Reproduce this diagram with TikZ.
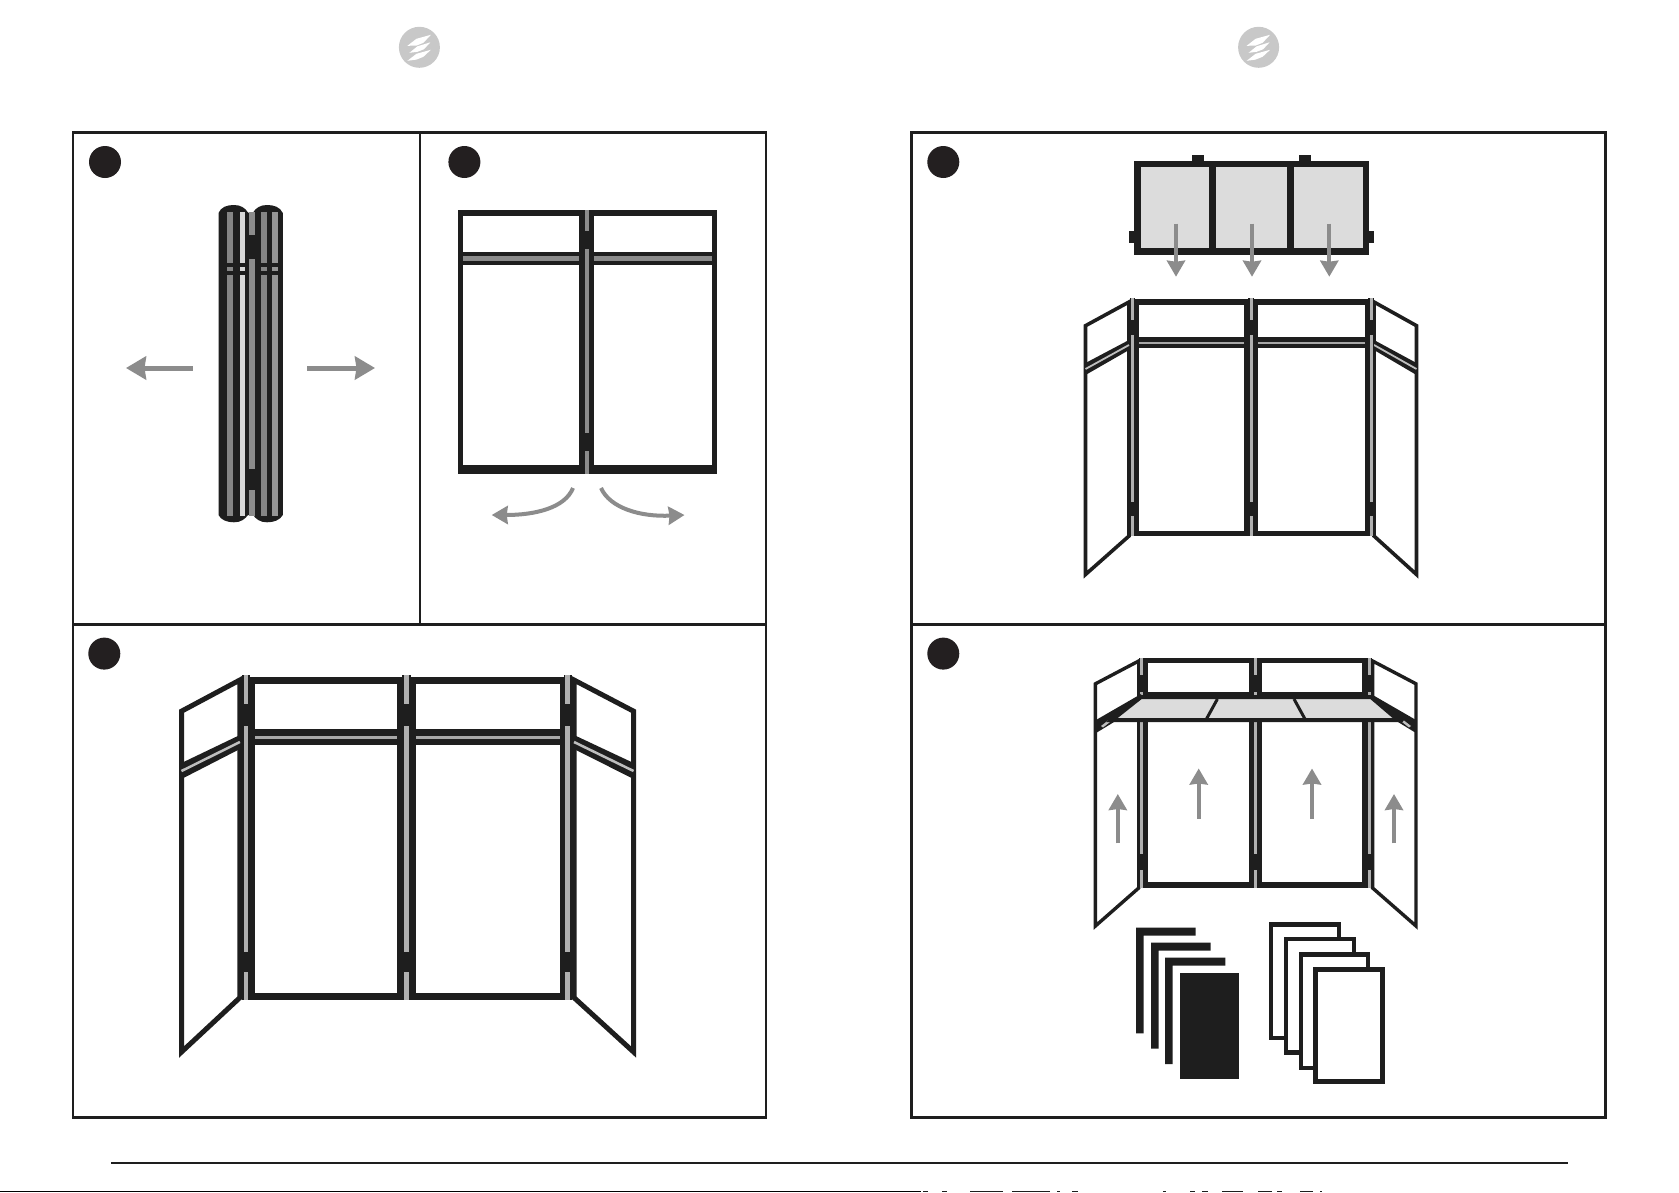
\documentclass[tikz,border=0pt]{standalone}
\usetikzlibrary{arrows.meta}
\definecolor{ink}{HTML}{1E1E1E}
\definecolor{badge}{HTML}{231F20}
\definecolor{arrowgray}{HTML}{8C8C8C}
\definecolor{bargray}{HTML}{8A8A8A}
\definecolor{hingegray}{HTML}{8C8C8C}
\definecolor{gapgray}{HTML}{BEBEBE}
\definecolor{shelf}{HTML}{DCDCDC}
\definecolor{logo}{HTML}{C8C8C8}
\tikzset{
  frame/.style={draw=ink,line width=2.6pt},
  hairline/.style={draw=ink,line width=1.5pt},
  num/.style={circle,fill=badge,minimum size=32pt,inner sep=0pt},
  logodisc/.style={circle,fill=logo,minimum size=41pt,inner sep=0pt},
  wingline/.style={draw=ink,line join=miter,miter limit=20},
  bigarrow/.style={draw=arrowgray,line width=5pt,-{Stealth[length=20pt,width=23pt,inset=1.5pt,fill=arrowgray]}},
  midarrow/.style={draw=arrowgray,line width=4pt,-{Stealth[length=16pt,width=18pt,inset=1pt,fill=arrowgray]}},
}
% front panel: x0 x1 ytop yinner barTop grayTop grayBot barBot innerBot  (uses \pbot, \pt)
\newcommand\fpanel[9]{%
  \fill[ink] (#1,#3) rectangle (#2,\pbot);
  \fill[white] ({#1+\pt},#4) rectangle ({#2-\pt},#5);
  \fill[white] ({#1+\pt},#8) rectangle ({#2-\pt},#9);
  \fill[bargray] ({#1+\pt},#6) rectangle ({#2-\pt},#7);
}
% hinge: xc blackwidth graywidth ytop ybot h1a h1b h2a h2b
\newcommand\hingebar[9]{%
  \fill[ink] ({#1-#2/2},#4) rectangle ({#1+#2/2},#5);
  \fill[hingegray] ({#1-#3/2},#4) rectangle ({#1+#3/2},#5);
  \fill[ink] ({#1-#2/2},#6) rectangle ({#1+#2/2},#7);
  \fill[ink] ({#1-#2/2},#8) rectangle ({#1+#2/2},#9);
}
% wing frame: xo xi ytopOut ytopIn ybotOut ybotIn  (width \wlw)
\newcommand\wing[6]{%
  \draw[wingline,line width=\wlw pt,fill=white] (#1,#3) -- (#2,#4) -- (#2,#6) -- (#1,#5) -- cycle;
}
% wing bar: xo xi y1out y1in y2out y2in gapwidth
\newcommand\wingbar[7]{%
  \fill[ink] (#1,#3) -- (#2,#4) -- (#2,#6) -- (#1,#5) -- cycle;
  \draw[gapgray,line width=#7pt] (#1,{(#3+#5)/2}) -- (#2,{(#4+#6)/2});
}
\newcommand\logomark[2]{%
  \node[logodisc] (logo#1) at (#2,47.3) {};
  \begin{scope}[shift={(#2,47.3)}]
    \fill[white] (-12,-1.5) -- (-3,-8.5) -- (11.5,-12.5) -- (4,-4.5) -- (-3,-1.7) -- cycle;
    \fill[white] (-10,5.5) -- (-2,-1) -- (11,-5) -- (4.5,2) -- (-2,4.5) -- cycle;
    \fill[white] (-12,13.5) -- (-3,6.5) -- (11.5,2.5) -- (4,9.5) -- (-3,12.3) -- cycle;
  \end{scope}
}
\begin{document}
\begin{tikzpicture}[x=1pt,y=-1pt]
\useasboundingbox[fill=white] (0,0) rectangle (1679,1192);

% logos
\logomark{L}{419.4}
\logomark{R}{1258.6}

% frames
\draw[frame] (72.8,132.7) rectangle (766,1117.6);
\draw[frame] (72.8,624.5) -- (766,624.5);
\draw[frame] (420,132.7) -- (420,624.5);
\draw[frame] (911.7,132.7) rectangle (1605.5,1117.6);
\draw[frame] (911.7,624.5) -- (1605.5,624.5);

% badges
\node[num] (n1) at (105,162) {};
\node[num] (n2) at (464.4,162) {};
\node[num] (n3) at (104.3,653.6) {};
\node[num] (n4) at (943.3,162) {};
\node[num] (n5) at (943.3,653.6) {};

% ---------- panel 1: folded
\fill[ink] (218.5,213) .. controls (221,207) and (227,205) .. (234,205) .. controls (241,205) and (245,208) .. (248,212.5) -- (253,212.5) .. controls (256,208) and (260,205) .. (267,205) .. controls (274,205) and (280,207) .. (282.8,213) -- (282.8,515) .. controls (280,520) and (274,522.3) .. (267,522.3) .. controls (260,522.3) and (256,519) .. (253,515) -- (248,515) .. controls (245,519) and (241,522.3) .. (234,522.3) .. controls (227,522.3) and (221,520) .. (218.5,515) -- cycle;
\foreach \a/\b/\c in {226.5/233/858585,239.5/244.5/D8D8D8,249/254.5/8C8C8C,261/267/858585,272/277.5/969696}{
  \definecolor{tmpc}{HTML}{\c}
  \fill[tmpc] (\a,212) rectangle (\b,516);
}
\fill[ink] (247,234.7) rectangle (256,259);
\fill[ink] (247,469) rectangle (256,490);
\fill[ink] (221,262.5) rectangle (247,266.5);
\fill[ink] (221,271) rectangle (247,275);
\fill[ink] (256,262.5) rectangle (280,266.5);
\fill[ink] (256,271) rectangle (280,275);
\coordinate (a1s) at (192.8,368); \coordinate (a1e) at (126,368);
\coordinate (a2s) at (307.4,368); \coordinate (a2e) at (375,368);
\draw[bigarrow] (a1s) -- (a1e);
\draw[bigarrow] (a2s) -- (a2e);

% ---------- panel 2: two flat panels
\def\pbot{473.5}\def\pt{5}
\fpanel{458}{584}{210}{216}{252}{255.5}{260.5}{265}{465}
\fpanel{589}{716.6}{210}{216}{252}{255.5}{260.5}{265}{465}
\hingebar{586.5}{11}{4}{210}{473.5}{230.6}{249}{432.6}{451}
\coordinate (c1s) at (573,488); \coordinate (c1e) at (491.7,515);
\coordinate (c2s) at (601,488); \coordinate (c2e) at (684.5,515);
\draw[midarrow] (c1s) .. controls (565,508) and (535,515) .. (c1e);
\draw[midarrow] (c2s) .. controls (610,508) and (640,517) .. (c2e);

\definecolor{hingegray}{HTML}{B0B0B0}
\definecolor{bargray}{HTML}{A8A8A8}

% ---------- panel 3: large four-panel
\def\pbot{1000}\def\pt{5.5}
\fpanel{249}{402.8}{676.5}{683.8}{729}{735.5}{738.5}{744.5}{993}
\fpanel{410.8}{565}{676.5}{683.8}{729}{735.5}{738.5}{744.5}{993}
\def\wlw{5}
\wing{181.5}{239.9}{711.2}{680}{1052}{997.6}
\wing{633.6}{574}{711.2}{680}{1052}{997.6}
\wingbar{181.5}{239.9}{763}{735}{779}{749}{2.5}
\wingbar{633.6}{574}{763}{735}{779}{749}{2.5}
\hingebar{246.2}{8}{4.5}{674.5}{1000}{704}{726}{951.7}{971.7}
\hingebar{406.8}{9}{4.8}{674.5}{1000}{704}{726}{951.7}{971.7}
\hingebar{567.5}{8}{4.5}{674.5}{1000}{704}{726}{951.7}{971.7}

% ---------- panel 4: tray and four-panel
\fill[ink] (1192,155) rectangle (1204,170);
\fill[ink] (1299.3,155) rectangle (1311,170);
\fill[ink] (1129,230.6) rectangle (1140,243);
\fill[ink] (1363,230.6) rectangle (1374,243);
\fill[ink] (1134.4,161) rectangle (1369,255);
\fill[shelf] (1141,167.3) rectangle (1209.4,247.8);
\fill[shelf] (1216.3,167.3) rectangle (1287,247.8);
\fill[shelf] (1294,167.3) rectangle (1363,247.8);
\coordinate (d1s) at (1176,223.7); \coordinate (d1e) at (1176,276.7);
\coordinate (d2s) at (1252,223.7); \coordinate (d2e) at (1252,276.7);
\coordinate (d3s) at (1329.3,223.7); \coordinate (d3e) at (1329.3,276.7);
\draw[midarrow] (d1s) -- (d1e);
\draw[midarrow] (d2s) -- (d2e);
\draw[midarrow] (d3s) -- (d3e);

\def\pbot{536}\def\pt{4.5}
\fpanel{1134.5}{1248.5}{299}{304.5}{337}{341.5}{344}{348}{530.6}
\fpanel{1253.5}{1369}{299}{304.5}{337}{341.5}{344}{348}{530.6}
\def\wlw{3.6}
\wing{1085.5}{1129}{325.7}{302}{574.5}{536}
\wing{1416.5}{1374}{325.7}{302}{574.5}{536}
\wingbar{1085.5}{1129}{363}{340}{375}{350}{1.8}
\wingbar{1416.5}{1374}{363}{340}{375}{350}{1.8}
\hingebar{1132.3}{5.6}{3}{298}{536}{320}{335}{502}{516}
\hingebar{1251}{6}{3}{298}{536}{320}{335}{502}{516}
\hingebar{1371}{5.6}{3}{298}{536}{320}{335}{502}{516}

% ---------- panel 5: with shelf, arrows and sheet stacks
\def\pbot{888}\def\pt{4.6}
\fpanel{1143.3}{1253.5}{657.6}{662.5}{692}{696}{696}{722}{882}
\fpanel{1257.5}{1367}{657.6}{662.5}{692}{696}{696}{722}{882}
\def\wlw{3.4}
\wing{1095.4}{1138.7}{683.8}{661}{926}{888}
\wing{1416}{1372.6}{683.8}{661}{926}{888}
\hingebar{1141.5}{5.6}{3}{658}{888}{675}{692}{853.5}{870}
\hingebar{1255.5}{6}{3.6}{658}{888}{675}{692}{853.5}{870}
\hingebar{1369.5}{5.6}{3}{658}{888}{675}{692}{853.5}{870}
\fill[ink] (1096,720) -- (1141,694) -- (1141,702) -- (1114,722) -- (1096,733) -- cycle;
\fill[ink] (1416,720) -- (1371,694) -- (1371,702) -- (1398,722) -- (1416,733) -- cycle;
\fill[gapgray] (1101,726) -- (1108,720.5) -- (1110,722) -- (1103,727.5) -- cycle;
\fill[gapgray] (1411,726) -- (1404,720.5) -- (1402,722) -- (1409,727.5) -- cycle;
\draw[ink,line width=4pt,fill=shelf,line join=miter] (1141,697) -- (1371,697) -- (1398,720) -- (1112,720) -- cycle;
\draw[ink,line width=3pt] (1217.4,699) -- (1206.7,718.5);
\draw[ink,line width=3pt] (1294,699) -- (1304.7,718.5);
\coordinate (u1s) at (1117.8,843.3); \coordinate (u1e) at (1117.8,794);
\coordinate (u2s) at (1198.7,818.8); \coordinate (u2e) at (1198.7,768.5);
\coordinate (u3s) at (1312,818.8); \coordinate (u3e) at (1312,768.5);
\coordinate (u4s) at (1394,843.3); \coordinate (u4e) at (1394,794);
\draw[midarrow] (u1s) -- (u1e);
\draw[midarrow] (u2s) -- (u2e);
\draw[midarrow] (u3s) -- (u3e);
\draw[midarrow] (u4s) -- (u4e);

% black sheets
\foreach \xa/\xb/\ya/\yb in {1136/1195.5/927.6/1033.4,1151/1210.5/942.5/1048.7,1165/1225.4/957.5/1064}{
  \fill[ink] (\xa,\ya) -- (\xb,\ya) -- (\xb,{\ya+8}) -- ({\xa+7.5},{\ya+8}) -- ({\xa+7.5},\yb) -- (\xa,\yb) -- cycle;
}
\fill[ink] (1180,972.8) rectangle (1239.4,1078.6);
% white sheets
\foreach \xa/\xb/\ya/\yb in {1271/1339/924.5/1038,1286/1354/939/1052.5,1301/1368/954.5/1068}{
  \draw[ink,line width=4.2pt,fill=white] (\xa,\ya) rectangle (\xb,\yb);
}
\draw[ink,line width=5pt,fill=white] (1315,969) rectangle (1382,1081.5);

% rule and the cut-off line at the page foot
\draw[hairline] (111,1163) -- (1568,1163);
\fill[black] (0,1190.6) rectangle (921,1192);
\foreach \a/\b in {923/928,942/947,970/1003,1012/1050,1057/1060,1072/1078,1163/1166,1190/1195,1202/1208,1222/1243,1258/1272,1277/1282,1300/1313,1320/1322}{
  \fill[ink] (\a,1190.8) rectangle (\b,1192);
}
\end{tikzpicture}
\end{document}
